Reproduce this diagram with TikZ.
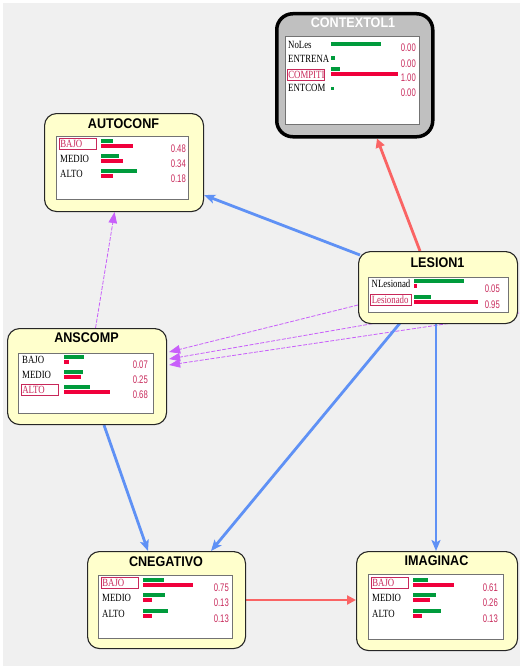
\documentclass[tikz,border=0pt]{standalone}
\usepackage{fontspec}
\setmainfont{Liberation Serif}
\newfontfamily\labfont[FakeStretch=0.8]{Liberation Serif}
\newfontfamily\valfont[FakeStretch=0.7]{Liberation Sans}
\newfontfamily\titfont[FakeStretch=0.9]{Liberation Sans}
\usetikzlibrary{arrows.meta,calc}
\definecolor{bgc}{RGB}{240,240,240}
\definecolor{nodefill}{RGB}{255,255,204}
\definecolor{gbar}{RGB}{0,155,60}
\definecolor{rbar}{RGB}{240,0,60}
\definecolor{valc}{RGB}{200,40,90}
\definecolor{bluec}{RGB}{95,145,245}
\definecolor{redc}{RGB}{250,100,100}
\definecolor{purc}{RGB}{200,95,250}
\definecolor{ctxfill}{RGB}{192,192,192}
\pgfdeclarelayer{back}
\pgfdeclarelayer{edges}
\pgfsetlayers{back,edges,main}
\tikzset{
 bnbox/.style={draw=black!85, line width=1.1pt, fill=nodefill, rounded corners=12pt, anchor=north west, inner sep=0pt},
 ctxbox/.style={draw=black, line width=3.5pt, fill=ctxfill, rounded corners=16pt, anchor=north west, inner sep=0pt},
 panel/.style={draw=black!55, line width=0.8pt, fill=white},
 bntitle/.style={font=\titfont\bfseries\fontsize{14}{15}\selectfont, inner sep=0pt},
 lab/.style={font=\labfont\fontsize{11}{12}\selectfont, anchor=west, inner xsep=1.5pt, inner ysep=0.5pt},
 sel/.style={draw=valc, text=valc, line width=0.6pt, text width=34pt, minimum height=11pt},
 val/.style={font=\valfont\fontsize{11}{12}\selectfont, text=valc, anchor=east, inner sep=0pt},
 blueedge/.style={draw=bluec, line width=2.8pt, -{Stealth[length=11pt,width=9pt,inset=2.5pt]}},
 rededge/.style={draw=redc, line width=2.8pt, -{Triangle[length=9pt,width=9pt]}},
 puredge/.style={draw=purc, line width=0.8pt, dash pattern=on 4pt off 1.5pt, -{Triangle[length=11pt,width=8.5pt]}},
}
\newcommand\bnrow[6]{%
 \node[lab,#6] at (\labx-1.5,#1+0.5) {#2};
 \fill[gbar] (\barx,#1-4) rectangle ++(#3,4);
 \fill[rbar] (\barx,#1+1) rectangle ++(#4,4);
 \node[val] at (\valx,#1+5.5) {#5};
}
\begin{document}
\begin{tikzpicture}[x=1pt,y=-1pt]
\useasboundingbox (0,0) rectangle (523,669);
\begin{pgfonlayer}{back}
 \fill[white] (0,0) rectangle (523,669);
 \fill[bgc] (3,3) rectangle (520,666);
\end{pgfonlayer}

% CONTEXTOL1
\begin{scope}[shift={(275,12)}]
 \node[ctxbox, minimum width=156pt, minimum height=123pt] (ctx) at (0,0) {};
 \node[bntitle, text=white] at (78,11) {CONTEXTOL1};
 \draw[panel] (10,24) rectangle (144,112);
 \begin{scope}
  \clip (10,24) rectangle (54,112);
  \node[lab] at (11.5,32.5) {NoLes};
  \node[lab] at (11.5,46.5) {ENTRENA};
  \node[lab,sel] at (11.5,63) {COMPITI};
  \node[lab] at (11.5,75.5) {ENTCOM};
 \end{scope}
 \fill[gbar] (56,30) rectangle (106,34);
 \fill[gbar] (56,44) rectangle (60,48);
 \fill[gbar] (56,55) rectangle (65,59);
 \fill[rbar] (56,60) rectangle (123,64);
 \fill[gbar] (56,74.5) rectangle (59,77.5);
 \node[val] at (141,36) {0.00};
 \node[val] at (141,52) {0.00};
 \node[val] at (141,66) {1.00};
 \node[val] at (141,81) {0.00};
\end{scope}

% AUTOCONF
\begin{scope}[shift={(44,113)}]
 \node[bnbox, minimum width=159pt, minimum height=98pt] (auto) at (0,0) {};
 \node[bntitle] at (79.5,11) {AUTOCONF};
 \draw[panel] (12,23) rectangle (144,86);
 \def\labx{16}\def\barx{57}\def\valx{142}
 \bnrow{30}{BAJO}{12}{32}{0.48}{sel}
 \bnrow{45}{MEDIO}{18}{22}{0.34}{}
 \bnrow{60}{ALTO}{36}{12}{0.18}{}
\end{scope}

% LESION1
\begin{scope}[shift={(358,251)}]
 \node[bnbox, minimum width=159pt, minimum height=72pt] (les) at (0,0) {};
 \node[bntitle] at (79.5,12) {LESION1};
 \draw[panel] (10,26) rectangle (150,61);
 \def\labx{13.5}\def\barx{56}\def\valx{142}
 \bnrow{32}{NLesionad}{50}{3}{0.05}{}
 \bnrow{48}{Lesionado}{17}{64}{0.95}{sel,text width=37.5pt}
\end{scope}

% ANSCOMP
\begin{scope}[shift={(7,328)}]
 \node[bnbox, minimum width=159pt, minimum height=96pt] (ans) at (0,0) {};
 \node[bntitle] at (79.5,10) {ANSCOMP};
 \draw[panel] (11,25) rectangle (146,85);
 \def\labx{15}\def\barx{57}\def\valx{141}
 \bnrow{31}{BAJO}{20}{4.7}{0.07}{}
 \bnrow{46}{MEDIO}{19}{17}{0.25}{}
 \bnrow{61}{ALTO}{26}{45.6}{0.68}{sel}
\end{scope}

% CNEGATIVO
\begin{scope}[shift={(87,551)}]
 \node[bnbox, minimum width=158pt, minimum height=97pt] (cneg) at (0,0) {};
 \node[bntitle] at (79,11) {CNEGATIVO};
 \draw[panel] (11,24) rectangle (145,87);
 \def\labx{15}\def\barx{56}\def\valx{142}
 \bnrow{31}{BAJO}{21}{50}{0.75}{sel}
 \bnrow{46}{MEDIO}{22}{9}{0.13}{}
 \bnrow{62}{ALTO}{25}{9}{0.13}{}
\end{scope}

% IMAGINAC
\begin{scope}[shift={(356,551)}]
 \node[bnbox, minimum width=161pt, minimum height=99pt] (imag) at (0,0) {};
 \node[bntitle] at (80.5,10) {IMAGINAC};
 \draw[panel] (12,23) rectangle (147,88);
 \def\labx{16}\def\barx{57}\def\valx{142}
 \bnrow{31}{BAJO}{15}{41}{0.61}{sel}
 \bnrow{46}{MEDIO}{23}{17}{0.26}{}
 \bnrow{62}{ALTO}{28}{9}{0.13}{}
\end{scope}

\begin{pgfonlayer}{edges}
 \draw[rededge] ($(les.north west)+(62,0)$) -- ($(ctx.south west)+(102,0)$);
 \draw[blueedge] ($(les.north west)+(2,4)$) -- ($(auto.south east)+(0,-17)$);
 \draw[puredge] ($(ans.north)+(8.5,0)$) -- ($(auto.south)+(-9.5,0)$);
 \draw[puredge] ($(les.north west)+(0,54)$) -- ($(ans.north east)+(2,24)$);
 \draw[puredge] ($(les.north west)+(47,67)$) -- ($(ans.north east)+(2,31)$);
 \draw[puredge] ($(les.north east)+(1,62)$) -- ($(ans.north east)+(2,37)$);
 \draw[blueedge] ($(les.south west)+(42,-1)$) -- ($(cneg.north west)+(124,0)$);
 \draw[blueedge] ($(les.south west)+(78,0)$) -- ($(imag.north west)+(80,0)$);
 \draw[blueedge] ($(ans.south west)+(97,0)$) -- ($(cneg.north west)+(61,0)$);
 \draw[rededge] ($(cneg.north east)+(0,49)$) -- ($(imag.north west)+(0,49)$);
\end{pgfonlayer}
\end{tikzpicture}
\end{document}
